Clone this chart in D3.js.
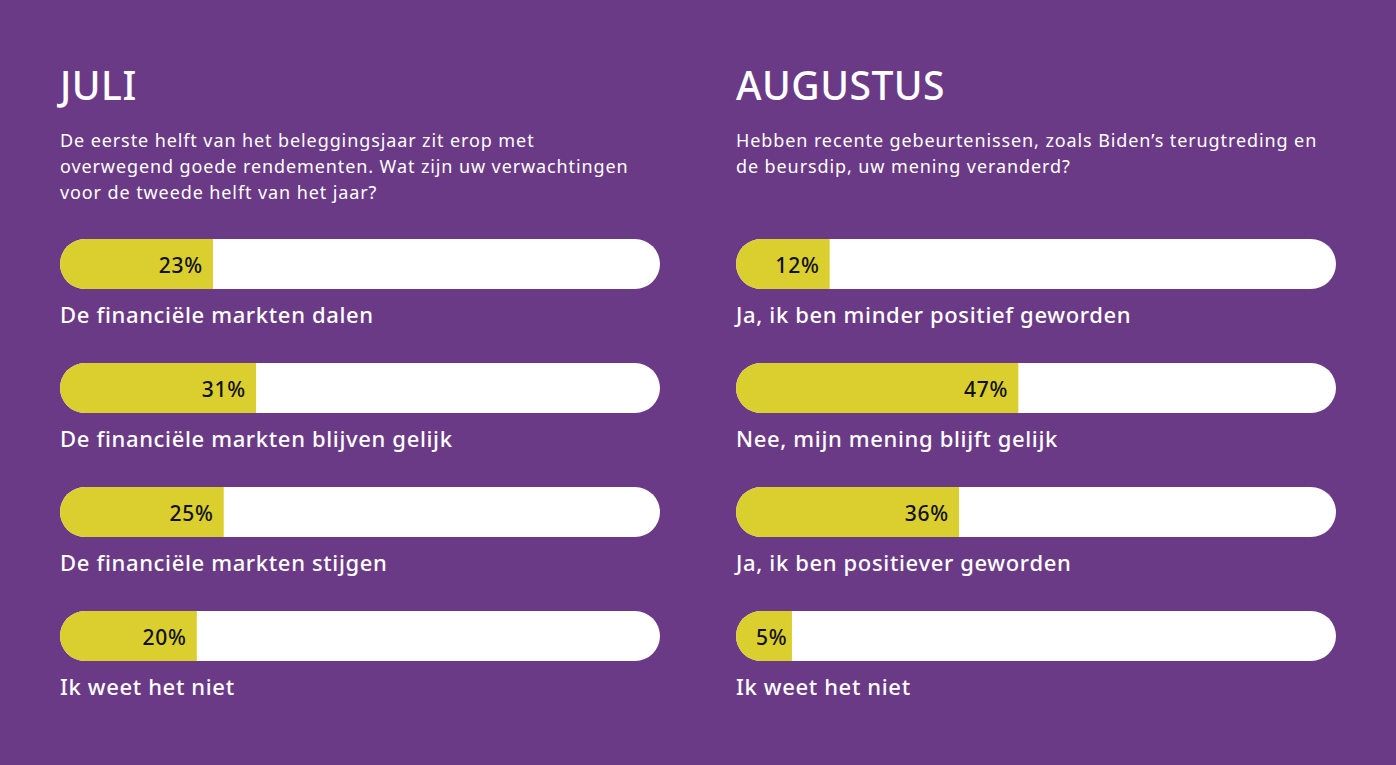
<!DOCTYPE html>
<html><head><meta charset="utf-8">
<script src="https://cdn.jsdelivr.net/npm/d3@7"></script>
<style>html,body{margin:0;padding:0;background:#6b3a86;}svg{display:block;}</style>
</head><body><svg id="c" width="1396" height="765"></svg>
<script>
const titles = ["JULI", "AUGUSTUS"];
const questions = [
  ["De eerste helft van het beleggingsjaar zit erop met", "overwegend goede rendementen. Wat zijn uw verwachtingen", "voor de tweede helft van het jaar?"],
  ["Hebben recente gebeurtenissen, zoals Biden\u2019s terugtreding en", "de beursdip, uw mening veranderd?"]
];
const categoriesJuli = ["De financiële markten dalen", "De financiële markten blijven gelijk", "De financiële markten stijgen", "Ik weet het niet"];
const valuesJuli = [23, 31, 25, 20];
const categoriesAug = ["Ja, ik ben minder positief geworden", "Nee, mijn mening blijft gelijk", "Ja, ik ben positiever geworden", "Ik weet het niet"];
const valuesAug = [12, 47, 36, 5];

const panels = [
  {title: titles[0], q: questions[0], cats: categoriesJuli, vals: valuesJuli, x0: 60},
  {title: titles[1], q: questions[1], cats: categoriesAug, vals: valuesAug, x0: 736}
];
const svg = d3.select("#c");
const W = 600, H = 50, R = 25;
const FONT = "'Noto Sans', 'Open Sans', sans-serif";
const w = d3.scaleLinear().domain([0, 100]).range([29, 568]);
const y = d3.scaleBand().domain(d3.range(4)).range([239, 735]).paddingInner(0);

panels.forEach(p => {
  const g = svg.append("g").attr("transform", `translate(${p.x0},0)`);
  g.append("text").attr("x", 0).attr("y", 100).attr("fill", "#fff")
    .style("font-family", FONT).style("font-size", "39px").style("font-weight", 500)
    .style("letter-spacing", "0.5px")
    .text(p.title);
  g.append("text").attr("fill", "#fff").style("font-family", FONT).style("font-size", "18px")
    .style("letter-spacing", "0.9px")
    .selectAll("tspan").data(p.q).join("tspan")
    .attr("x", 0).attr("y", (d, i) => 147 + i * 25.8).text(d => d);
  const clipId = "clip" + p.x0;
  const rows = g.selectAll("g.row").data(p.vals).join("g").attr("class", "row")
    .attr("transform", (d, i) => `translate(0,${y(i)})`);
  rows.append("clipPath").attr("id", (d, i) => clipId + "_" + i)
    .append("rect").attr("width", W).attr("height", H).attr("rx", R).attr("ry", R);
  rows.append("rect").attr("width", W).attr("height", H).attr("rx", R).attr("ry", R).attr("fill", "#fff");
  rows.append("rect").attr("clip-path", (d, i) => `url(#${clipId}_${i})`)
    .attr("width", d => w(d)).attr("height", H).attr("fill", "#dbcf30");
  rows.append("text").attr("y", 34)
    .attr("text-anchor", "end").attr("fill", "#111")
    .style("font-family", FONT).style("font-size", "21px").style("font-weight", 500)
    .style("letter-spacing", "0.8px")
    .text(d => d + "%")
    .attr("x", function(d) { const tw = this.getComputedTextLength(); return Math.max(w(d) - 10, 20 + tw); });
  rows.append("text").attr("x", 0).attr("y", 84).attr("fill", "#fff")
    .style("font-family", FONT).style("font-size", "22px").style("font-weight", 500)
    .style("letter-spacing", "0.65px")
    .text((d, i) => p.cats[i]);
});
</script></body></html>
